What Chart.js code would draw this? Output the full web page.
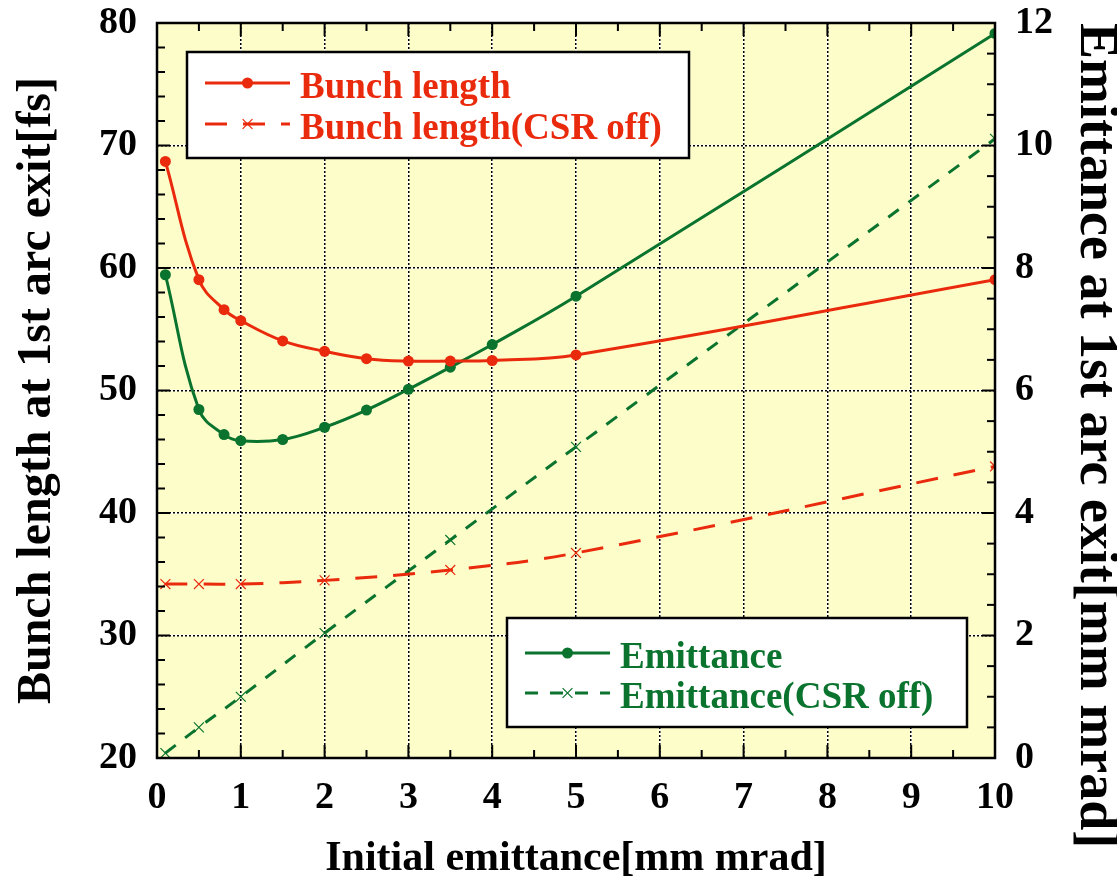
<!DOCTYPE html>
<html>
<head>
<meta charset="utf-8">
<script src="https://cdn.jsdelivr.net/npm/chart.js@4/dist/chart.umd.min.js"></script>
<style>
  html, body { margin: 0; padding: 0; background: #ffffff; }
  #wrap { width: 1117px; height: 885px; }
</style>
</head>
<body>
<div id="wrap"><canvas id="c" width="1117" height="885"></canvas></div>
<script>
// ---- data ----
const xMain = [0.1, 0.5, 0.8, 1, 1.5, 2, 2.5, 3, 3.5, 4, 5, 10];
const bunchLength = [68.7, 59.05, 56.6, 55.7, 54.05, 53.2, 52.6, 52.4, 52.4, 52.45, 52.9, 59.05];
const emittance = [7.89, 5.69, 5.28, 5.18, 5.2, 5.4, 5.68, 6.02, 6.38, 6.75, 7.54, 11.83];
const xOff = [0.1, 0.5, 1, 2, 3.5, 5, 10];
const bunchLengthOff = [34.2, 34.2, 34.2, 34.5, 35.35, 36.74, 43.8];
const emittanceOff = [0.08, 0.5, 1.0, 2.04, 3.56, 5.08, 10.11];

const seriesLabels = ['Bunch length', 'Bunch length(CSR off)', 'Emittance', 'Emittance(CSR off)'];
const xTitle = 'Initial emittance[mm mrad]';
const yTitle = 'Bunch length at 1st arc exit[fs]';
const y2Title = 'Emittance at 1st arc exit[mm mrad]';

const RED = '#EA2A0C';
const GREEN = '#0A732E';
const BG = '#FDFDCA';
const FONT = "'Liberation Serif', 'Times New Roman', serif";

const pts = (xs, ys) => xs.map((x, i) => ({ x: x, y: ys[i] }));

const bgPlugin = {
  id: 'bg',
  beforeDraw(chart) {
    const { ctx, chartArea: a, scales } = chart;
    ctx.save();
    ctx.fillStyle = BG;
    ctx.fillRect(a.left, a.top, a.right - a.left, a.bottom - a.top);
    ctx.strokeStyle = '#ffffff';
    ctx.lineWidth = 1.5;
    scales.x.ticks.forEach(t => {
      const px = scales.x.getPixelForValue(t.value);
      ctx.beginPath(); ctx.moveTo(px, a.top); ctx.lineTo(px, a.bottom); ctx.stroke();
    });
    scales.y.ticks.forEach(t => {
      const py = scales.y.getPixelForValue(t.value);
      ctx.beginPath(); ctx.moveTo(a.left, py); ctx.lineTo(a.right, py); ctx.stroke();
    });
    ctx.restore();
  }
};

const frameTicksPlugin = {
  id: 'frameTicks',
  afterDatasetsDraw(chart) {
    const { ctx, chartArea: a, scales } = chart;
    ctx.save();
    ctx.strokeStyle = '#000';
    ctx.lineWidth = 2;
    const major = 13, minor = 8;
    for (let v = 0; v <= 10.001; v += 0.5) {
      const px = scales.x.getPixelForValue(v);
      const len = Math.abs(v - Math.round(v)) < 1e-6 ? major : minor;
      ctx.beginPath();
      ctx.moveTo(px, a.bottom); ctx.lineTo(px, a.bottom - len);
      ctx.moveTo(px, a.top); ctx.lineTo(px, a.top + len);
      ctx.stroke();
    }
    for (let v = 20; v <= 80.001; v += 2) {
      const py = scales.y.getPixelForValue(v);
      const len = Math.abs(v % 10) < 1e-6 ? major : minor;
      ctx.beginPath(); ctx.moveTo(a.left, py); ctx.lineTo(a.left + len, py); ctx.stroke();
    }
    for (let v = 0; v <= 12.001; v += 0.5) {
      const py = scales.y2.getPixelForValue(v);
      const len = Math.abs(v % 2) < 1e-6 ? major : minor;
      ctx.beginPath(); ctx.moveTo(a.right, py); ctx.lineTo(a.right - len, py); ctx.stroke();
    }
    ctx.lineWidth = 2.5;
    ctx.strokeRect(a.left, a.top, a.right - a.left, a.bottom - a.top);
    ctx.restore();
  }
};

function drawLegendBox(chart, box, items) {
  const ctx = chart.ctx;
  ctx.save();
  ctx.fillStyle = '#ffffff';
  ctx.fillRect(box.x, box.y, box.w, box.h);
  ctx.strokeStyle = '#000';
  ctx.lineWidth = 2.5;
  ctx.strokeRect(box.x, box.y, box.w, box.h);
  items.forEach((it, i) => {
    const ds = chart.data.datasets[it.index];
    const ly = box.y + box.row0 + i * box.rowGap;
    const x0 = box.x + 18, x1 = box.x + 103, xm = (x0 + x1) / 2;
    ctx.strokeStyle = ds.borderColor;
    ctx.lineWidth = ds.borderWidth;
    ctx.setLineDash(ds.borderDash || []);
    ctx.beginPath(); ctx.moveTo(x0, ly); ctx.lineTo(x1, ly); ctx.stroke();
    ctx.setLineDash([]);
    if (ds.pointStyle === 'circle') {
      ctx.fillStyle = ds.pointBackgroundColor;
      ctx.beginPath(); ctx.arc(xm, ly, ds.pointRadius, 0, Math.PI * 2); ctx.fill();
    } else {
      const r = ds.pointRadius * 0.7;
      ctx.lineWidth = 1.2;
      ctx.strokeStyle = ds.pointBorderColor;
      ctx.beginPath();
      ctx.moveTo(xm - r, ly - r); ctx.lineTo(xm + r, ly + r);
      ctx.moveTo(xm - r, ly + r); ctx.lineTo(xm + r, ly - r);
      ctx.stroke();
    }
    ctx.fillStyle = ds.borderColor;
    ctx.font = 'bold 37px ' + FONT;
    ctx.textBaseline = 'alphabetic';
    ctx.textAlign = 'left';
    ctx.fillText(ds.label, box.x + 113, ly + 15);
  });
  ctx.restore();
}

const legendPlugin = {
  id: 'twoLegends',
  afterDraw(chart) {
    const a = chart.chartArea;
    drawLegendBox(chart, { x: a.left + 30, y: a.top + 29, w: 502, h: 106, row0: 31, rowGap: 41 },
      [{ index: 0 }, { index: 1 }]);
    drawLegendBox(chart, { x: a.left + 350, y: a.top + 595, w: 460, h: 109, row0: 35, rowGap: 40 },
      [{ index: 2 }, { index: 3 }]);
  }
};

function fitVertical(width) {
  return function (s) { s.width = width; s.paddingTop = 0; s.paddingBottom = 0; };
}

new Chart(document.getElementById('c'), {
  type: 'line',
  data: {
    datasets: [
      {
        label: seriesLabels[0], data: pts(xMain, bunchLength), yAxisID: 'y',
        borderColor: RED, backgroundColor: RED, borderWidth: 3, tension: 0.4,
        pointStyle: 'circle', pointRadius: 5.5, pointBackgroundColor: RED, pointBorderColor: RED, pointBorderWidth: 0
      },
      {
        label: seriesLabels[1], data: pts(xOff, bunchLengthOff), yAxisID: 'y',
        borderColor: RED, backgroundColor: RED, borderWidth: 3, borderDash: [22, 16], tension: 0.4,
        pointStyle: 'crossRot', pointRadius: 7, pointBorderColor: RED, pointBackgroundColor: RED, pointBorderWidth: 1.2
      },
      {
        label: seriesLabels[2], data: pts(xMain, emittance), yAxisID: 'y2',
        borderColor: GREEN, backgroundColor: GREEN, borderWidth: 3, tension: 0.4,
        pointStyle: 'circle', pointRadius: 5.5, pointBackgroundColor: GREEN, pointBorderColor: GREEN, pointBorderWidth: 0
      },
      {
        label: seriesLabels[3], data: pts(xOff, emittanceOff), yAxisID: 'y2',
        borderColor: GREEN, backgroundColor: GREEN, borderWidth: 3, borderDash: [13, 12], tension: 0.4,
        pointStyle: 'crossRot', pointRadius: 7, pointBorderColor: GREEN, pointBackgroundColor: GREEN, pointBorderWidth: 1.2
      }
    ]
  },
  options: {
    responsive: false,
    animation: false,
    devicePixelRatio: 1,
    layout: { padding: { top: 23, left: 0, right: 0, bottom: 0 } },
    plugins: { legend: { display: false }, tooltip: { enabled: false } },
    elements: { line: { fill: false } },
    scales: {
      x: {
        type: 'linear', min: 0, max: 10,
        ticks: { stepSize: 1, color: '#000', padding: 17, font: { family: FONT, size: 38, weight: 'bold' } },
        grid: { color: '#000', lineWidth: 1.5, drawTicks: false },
        border: { display: false, dash: [2, 2] },
        title: { display: true, text: xTitle, color: '#000', padding: { top: 0, bottom: 5 },
                 font: { family: FONT, size: 42, weight: 'bold', lineHeight: 1 } },
        afterFit(s) { s.height = 127; }
      },
      y: {
        type: 'linear', position: 'left', min: 20, max: 80,
        ticks: { stepSize: 10, color: '#000', padding: 20, font: { family: FONT, size: 38, weight: 'bold' } },
        grid: { color: '#000', lineWidth: 1.5, drawTicks: false },
        border: { display: false, dash: [2, 2] },
        title: { display: true, text: yTitle, color: '#000', padding: { top: 14, bottom: 0 },
                 font: { family: FONT, size: 48, weight: 'bold', lineHeight: 1 } },
        afterFit: fitVertical(157)
      },
      y2: {
        type: 'linear', position: 'right', min: 0, max: 12,
        ticks: { stepSize: 2, color: '#000', padding: 20, font: { family: FONT, size: 38, weight: 'bold' } },
        grid: { display: false, drawTicks: false },
        border: { display: false },
        title: { display: true, text: y2Title, color: '#000', align: 'end', padding: { top: 0, bottom: 0 },
                 font: { family: FONT, size: 54, weight: 'bold', lineHeight: 0.8 } },
        afterFit: fitVertical(122)
      }
    }
  },
  plugins: [bgPlugin, frameTicksPlugin, legendPlugin]
});
</script>
</body>
</html>
